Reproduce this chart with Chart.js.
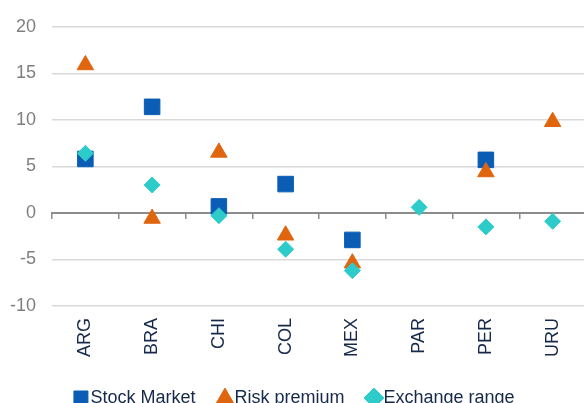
<!DOCTYPE html>
<html>
<head>
<meta charset="utf-8">
<script src="https://cdn.jsdelivr.net/npm/chart.js@4.4.1/dist/chart.umd.min.js"></script>
<style>
  html, body { margin: 0; padding: 0; background: #fff; overflow: hidden; }
  #wrap { width: 586px; height: 417px; position: relative; }
</style>
</head>
<body>
<div id="wrap"><canvas id="chart"></canvas></div>
<script>
const categories = ['ARG', 'BRA', 'CHI', 'COL', 'MEX', 'PAR', 'PER', 'URU'];
const stockMarket = [5.8, 11.4, 0.7, 3.1, -2.9, null, 5.7, null];
const riskPremium = [15.9, -0.6, 6.5, -2.4, -5.4, null, 4.4, 9.8];
const exchangeRange = [6.4, 3.0, -0.3, -3.9, -6.2, 0.6, -1.5, -0.9];
const yTicks = [-10, -5, 0, 5, 10, 15, 20];

const FONT = { family: '"Liberation Sans", Arial, sans-serif', size: 18 };
const NAVY = '#17294a';

function series(label, data, color, style, radius, order) {
    return {
        label: label,
        data: data,
        showLine: false,
        pointStyle: style,
        pointRadius: radius,
        pointHoverRadius: radius,
        pointBackgroundColor: color,
        pointBorderColor: color,
        pointBorderWidth: 1,
        backgroundColor: color,
        borderColor: color,
        order: order
    };
}

new Chart(document.getElementById('chart'), {
    type: 'line',
    data: {
        labels: categories,
        datasets: [
            series('Stock Market', stockMarket, '#0b5cb5', 'rect', 11, 2),
            series('Risk premium', riskPremium, '#e0650f', 'triangle', 9.5, 1),
            series('Exchange range', exchangeRange, '#2ecbcb', 'rectRot', 8, 0)
        ]
    },
    options: {
        responsive: true,
        maintainAspectRatio: false,
        animation: false,
        layout: { autoPadding: false, padding: { left: 9, top: 14, right: 0, bottom: 0 } },
        plugins: {
            tooltip: { enabled: false },
            legend: {
                position: 'bottom',
                labels: {
                    usePointStyle: true,
                    boxWidth: 1,
                    boxHeight: 14,
                    padding: 29,
                    color: NAVY,
                    font: FONT,
                    sort: (a, b) => a.datasetIndex - b.datasetIndex
                }
            }
        },
        scales: {
            x: {
                type: 'category',
                offset: true,
                grid: { display: false, drawTicks: false },
                border: { display: false },
                ticks: { color: NAVY, font: FONT, minRotation: 90, maxRotation: 90, padding: 12 },
                afterFit: s => { s.paddingLeft = 0; s.paddingRight = 0; s.height -= 9; }
            },
            x2: {
                type: 'category',
                axis: 'x',
                position: { y: 0 },
                offset: true,
                grid: { offset: true, drawOnChartArea: false, drawTicks: true, tickLength: 5, color: '#8c8c8c', lineWidth: 1.5 },
                border: { display: true, color: '#8c8c8c', width: 2 },
                ticks: { display: false },
                afterFit: s => { s.paddingLeft = 0; s.paddingRight = 0; }
            },
            y: {
                min: -10,
                max: 20,
                afterBuildTicks: axis => { axis.ticks = yTicks.map(v => ({ value: v })); },
                afterFit: s => { s.width = 43; },
                grid: {
                    drawTicks: false,
                    color: ctx => (ctx.tick && ctx.tick.value === 0) ? 'rgba(0,0,0,0)' : '#d9d9d9',
                    lineWidth: 1.5
                },
                border: { display: false },
                ticks: { color: '#7f7f7f', font: FONT, padding: 16 }
            }
        }
    }
});
</script>
</body>
</html>
